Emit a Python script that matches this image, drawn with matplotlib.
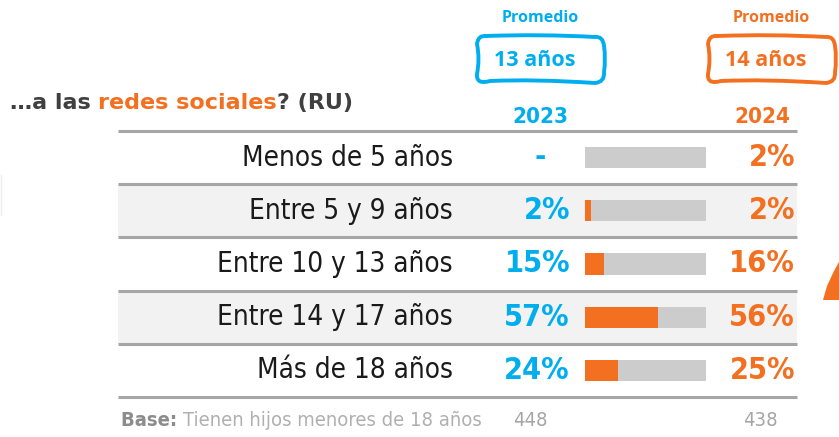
"""
Edad de acceso a las redes sociales: 2023 vs 2024.
"""
import matplotlib.pyplot as plt
import matplotlib.patches as mpatches
from matplotlib.path import Path

# ---- data -------------------------------------------------------------
categories = ['Menos de 5 años', 'Entre 5 y 9 años', 'Entre 10 y 13 años',
              'Entre 14 y 17 años', 'Más de 18 años']
pct_2023 = [None, 2, 15, 57, 24]
pct_2024 = [2, 2, 16, 56, 25]
bar_share = [0, 5, 16, 60, 27]          # orange bar length, % of grey track
years = ['2023', '2024']
promedio = ['13 años', '14 años']
base_n = [448, 438]

BLUE = '#00AEEF'
ORANGE = '#F37021'
DARK = '#1a1a1a'
GREY_LINE = '#a6a6a6'
SHADE = '#f2f2f2'
TRACK = '#cccccc'

COND = dict(family='DejaVu Sans', fontstretch='condensed')


def _sketch_box(ax, x, y, w, h, color):
    """Hand-drawn looking rounded box (slightly uneven edges)."""
    r = 9
    verts = [
        (x + r, y + 1),
        (x + w * 0.5, y - 1), (x + w - r, y + 2),
        (x + w - 1, y + 1), (x + w, y + r + 2),
        (x + w + 2, y + h * 0.5), (x + w, y + h - r - 2),
        (x + w + 1, y + h - 1), (x + w - r, y + h),
        (x + w * 0.45, y + h - 4), (x + r + 4, y + h - 2),
        (x - 1, y + h + 2), (x, y + h - r),
        (x + 3, y + h * 0.5), (x, y + r),
        (x + 1, y), (x + r, y + 1),
    ]
    codes = [Path.MOVETO] + [Path.CURVE3] * 16
    ax.add_patch(mpatches.PathPatch(Path(verts, codes), fill=False,
                                    ec=color, lw=2.8, zorder=3,
                                    capstyle='round', joinstyle='round'))


W, H = 839, 437
fig = plt.figure(figsize=(W / 100, H / 100), dpi=100)
ax = fig.add_axes([0, 0, 1, 1])
ax.set_xlim(0, W)
ax.set_ylim(H, 0)
ax.axis('off')

top, bottom = 131, 397
step = (bottom - top) / len(categories)
x0, x1 = 118, 797

# row shading and separators
for i in range(len(categories)):
    y = top + i * step
    if i % 2 == 1:
        ax.add_patch(mpatches.Rectangle((x0, y), x1 - x0, step,
                                        color=SHADE, lw=0, zorder=0))
for i in range(len(categories) + 1):
    y = top + i * step
    ax.plot([x0, x1], [y, y], color=GREY_LINE, lw=2.2, zorder=1,
            solid_capstyle='butt')

# labels and values
for i, cat in enumerate(categories):
    yc = top + (i + 0.5) * step
    ax.text(453, yc, cat, ha='right', va='center', fontsize=20,
            color=DARK, **COND)
    if pct_2023[i] is None:
        ax.text(540, yc, '-', ha='center', va='center', fontsize=22,
                fontweight='bold', color=BLUE, **COND)
    else:
        ax.text(570, yc, f'{pct_2023[i]}%', ha='right', va='center',
                fontsize=22, fontweight='bold', color=BLUE, **COND)
    ax.text(795, yc, f'{pct_2024[i]}%', ha='right', va='center',
            fontsize=22, fontweight='bold', color=ORANGE, **COND)

# bars in their own axes
bx = fig.add_axes([585 / W, 1 - bottom / H, 121 / W, (bottom - top) / H])
rows = list(range(len(categories)))
bx.barh(rows, [100] * len(rows), height=0.4, color=TRACK, lw=0)
bx.barh(rows, bar_share, height=0.4, color=ORANGE, lw=0)
bx.set_xlim(0, 100)
bx.set_ylim(len(rows) - 0.5, -0.5)
bx.axis('off')

# year headers
ax.text(540, 117, years[0], ha='center', va='center', fontsize=16,
        fontweight='bold', color=BLUE, **COND)
ax.text(762, 117, years[1], ha='center', va='center', fontsize=16,
        fontweight='bold', color=ORANGE, **COND)

# promedio boxes
for cx, col, txt, bx0 in [(540, BLUE, promedio[0], 477),
                          (771, ORANGE, promedio[1], 708)]:
    ax.text(cx, 18, 'Promedio', ha='center', va='center', fontsize=11.5,
            fontweight='bold', color=col, family='Open Sans')
    ax.text(cx - 5, 60, txt, ha='center', va='center', fontsize=15.5,
            fontweight='bold', color=col, family='Open Sans')
    _sketch_box(ax, bx0, 35, 127, 48, col)

# title
tx = 10
for part, col in [('…a las ', '#404040'), ('redes sociales', ORANGE),
                  ('? (RU)', '#404040')]:
    t = ax.text(tx, 103, part, ha='left', va='center', fontsize=16,
                fontweight='bold', color=col, family='DejaVu Sans')
    fig.canvas.draw()
    tx += t.get_window_extent().width

# base
t = ax.text(121, 421, 'Base: ', ha='left', va='center', fontsize=14.5,
            fontweight='bold', color='#8c8c8c', **COND)
fig.canvas.draw()
bw = t.get_window_extent().width
ax.text(121 + bw, 421, 'Tienen hijos menores de 18 años', ha='left',
        va='center', fontsize=14.5, color='#b0b0b0', **COND)
ax.text(530, 421, str(base_n[0]), ha='center', va='center', fontsize=14.5,
        color='#a6a6a6', **COND)
ax.text(760, 421, str(base_n[1]), ha='center', va='center', fontsize=14.5,
        color='#a6a6a6', **COND)

# cut-off decorations at the edges
ax.plot([0.5, 0.5], [175, 215], color='#ececec', lw=1)
ax.add_patch(mpatches.Polygon([(823, 300), (827, 286), (834, 271),
                               (839, 262), (839, 300)], color=ORANGE, lw=0))

plt.savefig('out.png', dpi=100)
